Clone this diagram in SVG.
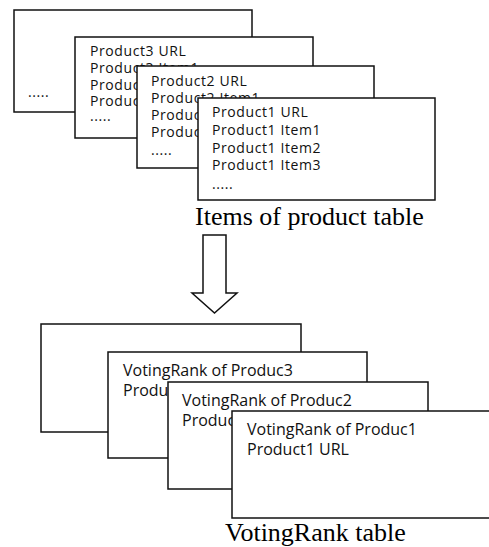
<svg xmlns="http://www.w3.org/2000/svg" width="489" height="547" viewBox="0 0 489 547">
<style>
.box{fill:#fff;stroke:#111;stroke-width:1.5}
.t{font-family:"Open Sans","Noto Sans",sans-serif;font-size:14px;letter-spacing:0.6px;fill:#111}
.v{font-family:"Open Sans","Noto Sans",sans-serif;font-size:16px;fill:#111}
.cap{font-family:"Liberation Serif","Times New Roman",serif;font-size:26px;fill:#000}
</style>
<rect width="489" height="547" fill="#fff"/>
<g id="product3-table-back">
<rect class="box" x="14" y="10" width="238" height="102"/>
<text class="t" x="28" y="97">.....</text>
</g>
<g id="product3-table">
<rect class="box" x="75" y="37" width="238" height="101"/>
<text class="t" x="90" y="56">Product3 URL</text>
<text class="t" x="90" y="73">Product3 Item1</text>
<text class="t" x="90" y="90">Product3 Item2</text>
<text class="t" x="90" y="106">Product3 Item3</text>
<text class="t" x="90" y="121">.....</text>
</g>
<g id="product2-table">
<rect class="box" x="137" y="66" width="237" height="102"/>
<text class="t" x="151" y="86">Product2 URL</text>
<text class="t" x="151" y="103">Product2 Item1</text>
<text class="t" x="151" y="120">Product2 Item2</text>
<text class="t" x="151" y="137">Product2 Item3</text>
<text class="t" x="151" y="155">.....</text>
</g>
<g id="product1-table">
<rect class="box" x="198" y="98" width="237" height="102"/>
<text class="t" x="212" y="117">Product1 URL</text>
<text class="t" x="212" y="135">Product1 Item1</text>
<text class="t" x="212" y="153">Product1 Item2</text>
<text class="t" x="212" y="170">Product1 Item3</text>
<text class="t" x="212" y="189">.....</text>
</g>
<g id="caption-items">
<text class="cap" x="195" y="225">Items of product table</text>
</g>
<g id="connectors">
<polygon points="203,235 226,235 226,293 237,293 214.5,313 192,293 203,293" fill="#fff" stroke="#111" stroke-width="1.5"/>
</g>
<g id="votingrank-back">
<rect class="box" x="41" y="324" width="260" height="108"/>
</g>
<g id="votingrank-product3">
<rect class="box" x="108" y="352" width="259" height="106"/>
<text class="v" x="123" y="376">VotingRank of Produc3</text>
<text class="v" x="123" y="396">Product3 URL</text>
</g>
<g id="votingrank-product2">
<rect class="box" x="168" y="382" width="260" height="107"/>
<text class="v" x="182" y="406">VotingRank of Produc2</text>
<text class="v" x="182" y="426">Product2 URL</text>
</g>
<g id="votingrank-product1">
<rect class="box" x="232" y="411" width="280" height="107"/>
<text class="v" x="247" y="435">VotingRank of Produc1</text>
<text class="v" x="247" y="455">Product1 URL</text>
</g>
<g id="caption-votingrank">
<text class="cap" x="225" y="541">VotingRank table</text>
</g>
</svg>
